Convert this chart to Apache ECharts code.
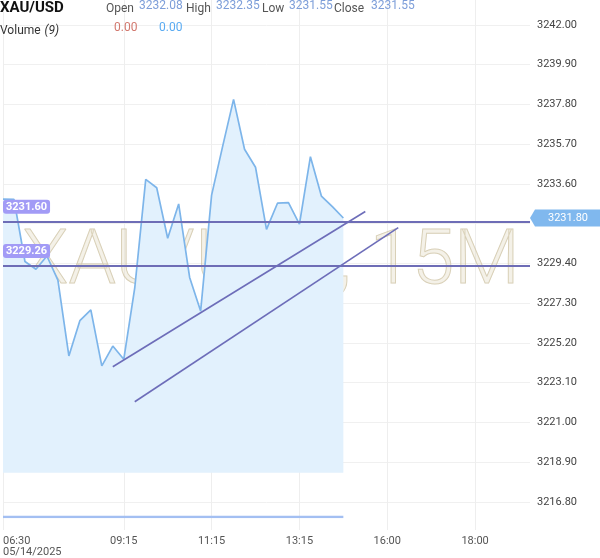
<!DOCTYPE html>
<html>
<head>
<meta charset="utf-8">
<script src="https://cdn.jsdelivr.net/npm/echarts@6/dist/echarts.min.js"></script>
<style>html,body{margin:0;padding:0;background:#fff}#c{width:600px;height:558px}</style>
</head>
<body>
<div id="c"></div>
<script>
// ---- data ----
const categories = ['06:30','06:45','07:00','07:15','07:30','07:45','08:00','08:15','08:30','08:45',
  '09:00','09:15','09:30','09:45','10:00','10:15','10:30','10:45','11:00','11:15',
  '11:30','11:45','12:00','12:15','12:30','12:45','13:00','13:15','13:30','13:45',
  '14:00','14:15','15:15','15:30','15:45','16:00','16:15','16:30','16:45','17:00',
  '17:15','17:30','17:45','18:00','18:15','18:30','18:45','19:00','19:15'];
const priceValues = [3232.80, 3232.78, 3229.50, 3229.09, 3229.79, 3228.52, 3224.51, 3226.37, 3226.94, 3223.98,
  3225.03, 3224.33, 3228.10, 3233.84, 3233.40, 3230.73, 3232.54, 3228.66, 3226.88, 3233.01,
  3235.57, 3238.07, 3235.43, 3234.48, 3231.20, 3232.58, 3232.61, 3231.48, 3235.04, 3232.96,
  3232.40, 3231.80];
const volumeValues = [0,0,0,0,0,0,0,0,0,0,0,0,0,0,0,0,0,0,0,0,0,0,0,0,0,0,0,0,0,0,0,0];
const xTickLabels = ['06:30','09:15','11:15','13:15','16:00','18:00'];
const dateLabel = '05/14/2025';
const yTicks = [3216.80, 3218.90, 3221.00, 3223.10, 3225.20, 3227.30, 3229.40, 3231.50, 3233.60, 3235.70, 3237.80, 3239.90, 3242.00];
const yMin = 3215.31, yMax = 3243.32;
const areaBase = 3218.34;
const priceLines = [3231.60, 3229.26];
const trendLine1 = [[10, 3223.94], [33, 3232.14]];
const trendLine2 = [[12, 3222.09], [36, 3231.29]];
const lastPrice = 3231.80;
const headerSymbol = 'XAU/USD';
const ohlcNames = ['Open', 'High', 'Low', 'Close'];
const ohlcValues = ['3232.08', '3232.35', '3231.55', '3231.55'];
const volumeLabel = 'Volume';
const volumeParam = '(9)';
const volumeReadouts = ['0.00', '0.00'];
const watermark = 'XAU/USD, 15M';

// ---- chart ----
const FONT = 'Roboto, "Noto Sans", sans-serif';
const chart = echarts.init(document.getElementById('c'), null, {renderer: 'canvas'});

const hLabel = {
  show: true, position: 'insideStartTop', distance: [0, 8],
  formatter: p => Number(p.value).toFixed(2),
  backgroundColor: '#a29bf6', color: '#fff', fontWeight: 'bold', fontSize: 11,
  fontFamily: FONT, padding: [2, 3, 1, 3], borderRadius: 3
};
const hStyle = {color: '#6e6db6', width: 2, type: 'solid'};
const tStyle = {color: '#6d6db9', width: 1.6, type: 'solid'};

const ohlcX = [[106, 139], [186, 216], [262, 289], [334, 371]];
const headerGraphics = [
  {type: 'text', z: 100, style: {x: 0, y: 8, text: headerSymbol, font: 'bold 15px ' + FONT, fill: '#111', verticalAlign: 'middle'}}
];
ohlcNames.forEach((n, i) => {
  headerGraphics.push({type: 'text', z: 100, style: {x: ohlcX[i][0], y: 9, text: n, font: '12px ' + FONT, fill: '#555', verticalAlign: 'middle'}});
  headerGraphics.push({type: 'text', z: 100, style: {x: ohlcX[i][1], y: 6, text: ohlcValues[i], font: '12px ' + FONT, fill: '#7d9ed9', verticalAlign: 'middle'}});
});
headerGraphics.push({type: 'text', z: 100, style: {x: 0, y: 31, text: volumeLabel, font: '12px ' + FONT, fill: '#333', verticalAlign: 'middle'}});
headerGraphics.push({type: 'text', z: 100, style: {x: 44.5, y: 31, text: volumeParam, font: 'italic 12px ' + FONT, fill: '#333', verticalAlign: 'middle'}});
headerGraphics.push({type: 'text', z: 100, style: {x: 114, y: 28, text: volumeReadouts[0], font: '12px ' + FONT, fill: '#d2786e', verticalAlign: 'middle'}});
headerGraphics.push({type: 'text', z: 100, style: {x: 159, y: 28, text: volumeReadouts[1], font: '12px ' + FONT, fill: '#5aabf2', verticalAlign: 'middle'}});

chart.setOption({
  animation: false,
  backgroundColor: '#fff',
  textStyle: {fontFamily: FONT},
  grid: [
    {left: 3, right: 70, top: 0, bottom: 28},
    {left: 3, right: 70, top: 512, height: 5}
  ],
  xAxis: [
    {
      type: 'category', gridIndex: 0, data: categories, boundaryGap: false,
      axisLine: {show: false}, axisTick: {show: false},
      axisLabel: {
        interval: (i, v) => xTickLabels.indexOf(v) >= 0,
        formatter: (v, i) => i === 0 ? v + '\n' + dateLabel : v,
        color: '#555', fontSize: 11, lineHeight: 11, margin: 6, verticalAlign: 'top',
        alignMinLabel: 'left', fontFamily: FONT
      },
      splitLine: {show: true, interval: (i, v) => xTickLabels.indexOf(v) >= 0, lineStyle: {color: '#eeeeee', width: 1}}
    },
    {type: 'category', gridIndex: 1, data: categories, boundaryGap: false, show: false}
  ],
  yAxis: [
    {
      type: 'value', gridIndex: 0, position: 'right', min: yMin, max: yMax,
      axisLine: {show: false}, axisTick: {show: false, customValues: yTicks},
      axisLabel: {customValues: yTicks, formatter: v => Number(v).toFixed(2), color: '#444', fontSize: 11, margin: 7, fontFamily: FONT},
      splitLine: {show: true, lineStyle: {color: '#f0f0f0', width: 1}}
    },
    {type: 'value', gridIndex: 1, min: 0, max: 1, show: false}
  ],
  graphic: [
    {type: 'text', z: 1, silent: true, style: {x: 22, y: 264, text: watermark, font: '300 76px Roboto', fill: 'rgba(228,220,198,0.4)', stroke: 'rgba(200,188,155,0.75)', lineWidth: 1, verticalAlign: 'middle'}}
  ].concat(headerGraphics),
  series: [
    {
      type: 'line', name: headerSymbol, xAxisIndex: 0, yAxisIndex: 0, data: priceValues,
      symbol: 'none', z: 3,
      lineStyle: {color: '#7db5ea', width: 1.7},
      itemStyle: {color: '#7db5ea'},
      areaStyle: {color: '#e2f1fd', opacity: 1, origin: areaBase},
      markLine: {
        silent: true, symbol: ['none', 'none'], animation: false,
        data: [
          {yAxis: priceLines[0], label: hLabel, lineStyle: hStyle},
          {yAxis: priceLines[1], label: hLabel, lineStyle: hStyle},
          [{coord: [categories[trendLine1[0][0]], trendLine1[0][1]], lineStyle: tStyle, label: {show: false}},
           {coord: [categories[trendLine1[1][0]], trendLine1[1][1]]}],
          [{coord: [categories[trendLine2[0][0]], trendLine2[0][1]], lineStyle: tStyle, label: {show: false}},
           {coord: [categories[trendLine2[1][0]], trendLine2[1][1]]}]
        ]
      },
      markPoint: {
        silent: true, animation: false,
        data: [{coord: [categories[categories.length - 1], lastPrice], value: lastPrice}],
        symbol: 'path://M0,8.5L5,0L70,0Q72,0 72,2L72,15Q72,17 70,17L5,17Z',
        symbolSize: [72, 17], symbolOffset: [36, 0], symbolKeepAspect: false,
        itemStyle: {color: '#80b8ee'},
        label: {show: true, position: 'inside', offset: [2, 0], formatter: p => Number(p.value).toFixed(2), color: '#fff', fontSize: 11, fontFamily: FONT}
      }
    },
    {
      type: 'line', name: 'Volume', xAxisIndex: 1, yAxisIndex: 1, data: volumeValues,
      symbol: 'none', lineStyle: {color: '#a3bff2', width: 2.5}, itemStyle: {color: '#a3bff2'}
    }
  ]
});
</script>
</body>
</html>
